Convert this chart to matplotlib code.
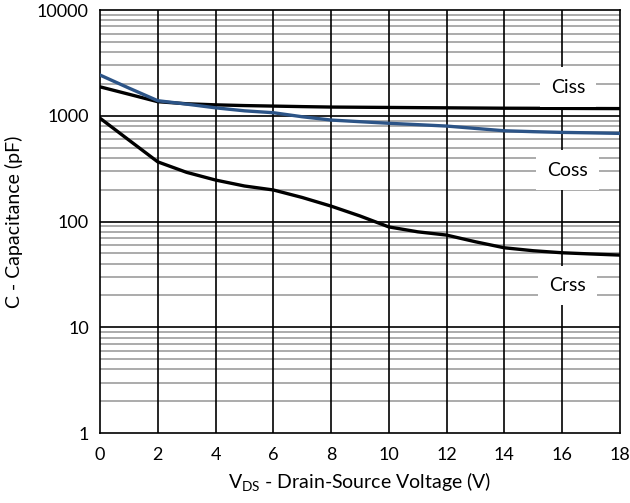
import numpy as np
import matplotlib
matplotlib.use('Agg')
import matplotlib.pyplot as plt

plt.rcParams['font.family'] = ['Lato', 'DejaVu Sans']
plt.rcParams['mathtext.default'] = 'regular'

# values (pF)
vds = [0, 1, 2, 3, 4, 5, 6, 7, 8, 9, 10, 11, 12, 13, 14, 15, 16, 17, 18]
ciss = [1880, 1600, 1360, 1300, 1270, 1250, 1236, 1222, 1210, 1205, 1200, 1195, 1190, 1185, 1180, 1178, 1175, 1172, 1170]
coss = [2430, 1830, 1390, 1290, 1190, 1115, 1070, 980, 912, 880, 850, 825, 800, 760, 722, 708, 697, 690, 682]
crss = [950, 590, 367, 292, 247, 217, 199, 169, 140, 113, 89, 80, 74.5, 64.4, 56.5, 53, 50.7, 49.4, 48.2]

labels = ['Ciss', 'Coss', 'Crss']
label_y = [1870, 307, 25]
label_x = 16.2

fig = plt.figure(figsize=(6.3, 5.03), dpi=100)
ax = fig.add_axes([0.1587, 0.139, 0.8253, 0.841])
ax.set_yscale('log')
ax.set_xlim(0, 18)
ax.set_ylim(1, 10000)

# grid
for dec in [1, 10, 100, 1000]:
    for m in range(2, 10):
        ax.axhline(dec * m, color='#959595', lw=1.1, zorder=1)
for dec in [10, 100, 1000]:
    ax.axhline(dec, color='black', lw=1.2, zorder=1.5)
for xv in range(2, 18, 2):
    ax.axvline(xv, color='black', lw=1.2, zorder=1.5)

ax.plot(vds, ciss, color='black', lw=2.4, zorder=3)
ax.plot(vds, crss, color='black', lw=2.4, zorder=3)
ax.plot(vds, coss, color='#2c5487', lw=2.4, zorder=4)

for t, yv in zip(labels, label_y):
    ax.text(label_x, yv, t, ha='center', va='center', fontsize=14, zorder=5,
            bbox=dict(facecolor='white', edgecolor='none', pad=8))

ax.set_xticks(range(0, 19, 2))
ax.set_yticks([1, 10, 100, 1000, 10000])
ax.set_yticklabels(['1', '10', '100', '1000', '10000'])
ax.yaxis.set_minor_locator(matplotlib.ticker.NullLocator())
ax.tick_params(length=0, labelsize=13, pad=8)
ax.tick_params(axis='x', pad=10)

for s in ax.spines.values():
    s.set_color('black')
    s.set_linewidth(1.2)

ax.set_xlabel(r'V$_{DS}$ - Drain-Source Voltage (V)', fontsize=14, labelpad=5)
ax.set_ylabel('C - Capacitance (pF)', fontsize=14, labelpad=10)

fig.savefig('out.png', dpi=100)
